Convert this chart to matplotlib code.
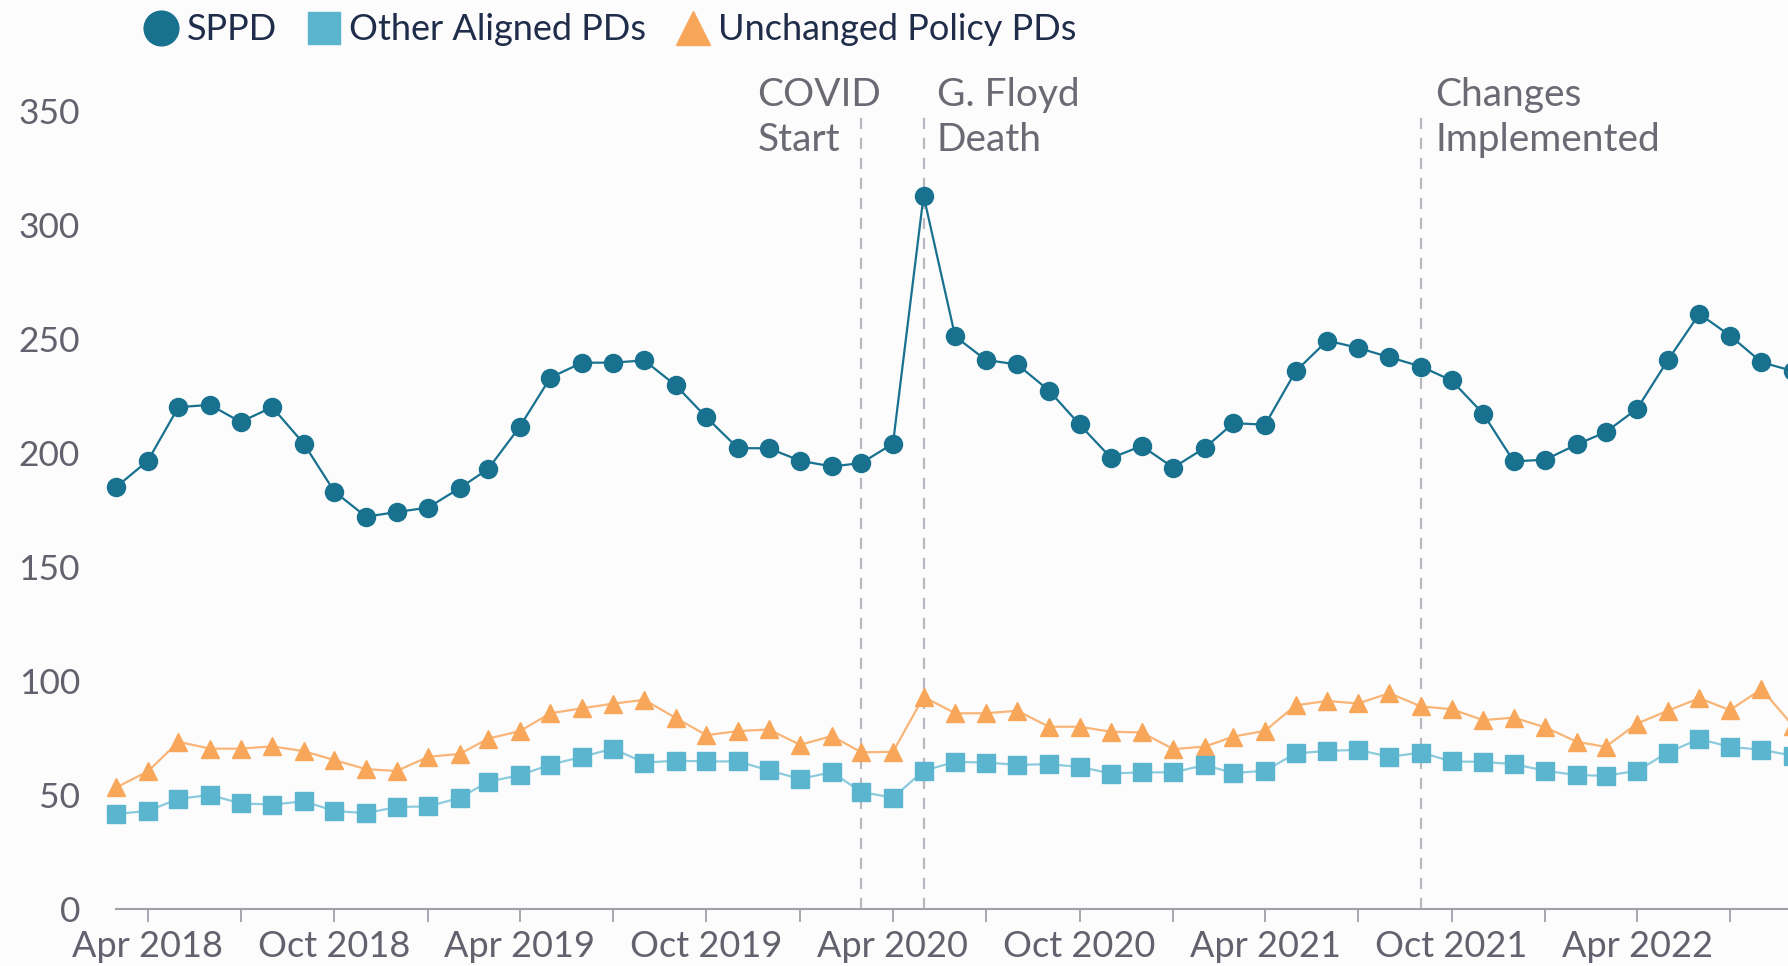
import numpy as np
import pandas as pd
import matplotlib
matplotlib.use('Agg')
import matplotlib.pyplot as plt
import matplotlib.dates as mdates
from matplotlib.lines import Line2D
from matplotlib.transforms import blended_transform_factory

plt.rcParams['font.family'] = ['Lato', 'DejaVu Sans']

months = pd.date_range('2018-03-01', periods=55, freq='MS')

sppd = [185, 196.5, 220, 221, 213.5, 220, 204, 183, 172, 174,
        176, 184.5, 193, 211.5, 233, 239.5, 239.5, 240.5, 229.5, 215.5,
        202, 202, 196.5, 194, 195.5, 204, 312.7, 251, 240.7, 238.7,
        227.3, 212.4, 197.7, 203, 193.5, 202.2, 213, 212.3, 235.7, 249.2,
        246, 241.9, 237.8, 231.7, 217.1, 196.2, 197, 203.7, 209, 219.3,
        240.5, 260.9, 251.4, 239.7, 235.8]

other = [41.7, 43, 48.3, 50, 46.3, 45.8, 47.2, 43, 42, 44.7,
         45, 48.7, 55.8, 58.7, 63.3, 66.7, 70.3, 64.2, 65, 64.7,
         64.7, 60.8, 57, 60, 51.3, 48.8, 60.6, 64.5, 64.2, 63.2,
         63.5, 62.3, 59.4, 59.9, 59.9, 63.1, 59.6, 60.6, 68.2, 69.3,
         69.8, 66.7, 68.6, 64.7, 64.5, 63.5, 60.6, 58.7, 58.4, 60.6,
         68.6, 74.5, 71.1, 69.8, 67.2]

unchanged = [53.3, 60.3, 73.3, 70.3, 70.3, 71.3, 69.2, 65.3, 61.3, 60.5,
             66.7, 68, 74.7, 78, 85.8, 88, 90, 91.7, 83.7, 76.2,
             78, 78.7, 72, 75.8, 68.7, 68.9, 93, 85.8, 85.8, 86.9,
             79.9, 79.9, 77.7, 77.4, 70.1, 71.2, 75.6, 78.1, 89.3, 91.2,
             90.1, 94.6, 88.8, 87.6, 82.8, 83.9, 79.6, 73.3, 71.1, 81.3,
             86.9, 92.4, 87.2, 96.4, 80.3]

events = ['2020-03-01', '2020-05-01', '2021-09-01']
event_labels = ['COVID\nStart', 'G. Floyd\nDeath', 'Changes\nImplemented']
label_offsets = [-102, 13, 14]  # days, text left edge relative to the line

c_sppd = '#17718f'
c_other = '#5bb5cf'
c_unch = '#f8a75a'
c_tick = '#62626e'
bg = '#fcfcfc'

fig = plt.figure(figsize=(17.88, 9.66), dpi=100, facecolor=bg)
ax = fig.add_axes([0.065, 0.059, 0.935, 0.8265], facecolor=bg)

ax.plot(months, unchanged, color='#f9b577', lw=1.6, marker='^', ms=13,
        mfc=c_unch, mec=c_unch, zorder=3, clip_on=False)
ax.plot(months, other, color='#8ccbdd', lw=1.6, marker='s', ms=12.5,
        mfc=c_other, mec=c_other, zorder=3, clip_on=False)
ax.plot(months, sppd, color=c_sppd, lw=1.6, marker='o', ms=13,
        mfc=c_sppd, mec=c_sppd, zorder=4, clip_on=False)

trans = blended_transform_factory(ax.transData, ax.transAxes)
for d, lab, off in zip(events, event_labels, label_offsets):
    d = pd.Timestamp(d)
    ax.axvline(d, ymin=0, ymax=1, color='#b8b8c0', lw=1.6, ls=(0, (5, 4)), zorder=2)
    ax.text(d + pd.Timedelta(days=off), 0.991, lab, transform=trans,
            ha='left', va='center', fontsize=28, color='#6a6a74',
            linespacing=1.32, clip_on=False)

ax.set_ylim(0, 350)
ax.set_yticks([0, 50, 100, 150, 200, 250, 300, 350])
ax.set_xlim(pd.Timestamp('2018-03-01'), pd.Timestamp('2022-08-27'))

ax.xaxis.set_major_locator(mdates.MonthLocator(bymonth=[4, 10]))
ax.xaxis.set_major_formatter(mdates.DateFormatter('%b %Y'))
ax.xaxis.set_minor_locator(mdates.MonthLocator(bymonth=[1, 7]))

for s in ['top', 'right', 'left']:
    ax.spines[s].set_visible(False)
ax.spines['bottom'].set_color('#a0a0a8')
ax.spines['bottom'].set_linewidth(1.5)

ax.tick_params(axis='y', length=0, pad=26, labelsize=25.5, labelcolor=c_tick)
ax.tick_params(axis='x', which='both', length=9, width=1.3, color='#a0a0a8',
               direction='out', pad=6, labelsize=26, labelcolor=c_tick)

handles = [
    Line2D([], [], ls='none', marker='o', ms=25, mfc=c_sppd, mec=c_sppd),
    Line2D([], [], ls='none', marker='s', ms=23, mfc=c_other, mec=c_other),
    Line2D([], [], ls='none', marker='^', ms=25, mfc=c_unch, mec=c_unch),
]
leg = fig.legend(handles, ['SPPD', 'Other Aligned PDs', 'Unchanged Policy PDs'],
                 loc='upper left', bbox_to_anchor=(0.062, 1.02), ncol=3,
                 frameon=False, fontsize=26, handlelength=1.0,
                 handletextpad=0.2, columnspacing=0.8)
for t in leg.get_texts():
    t.set_color('#1f2d4a')

fig.savefig('out.png', dpi=100, facecolor=bg)
